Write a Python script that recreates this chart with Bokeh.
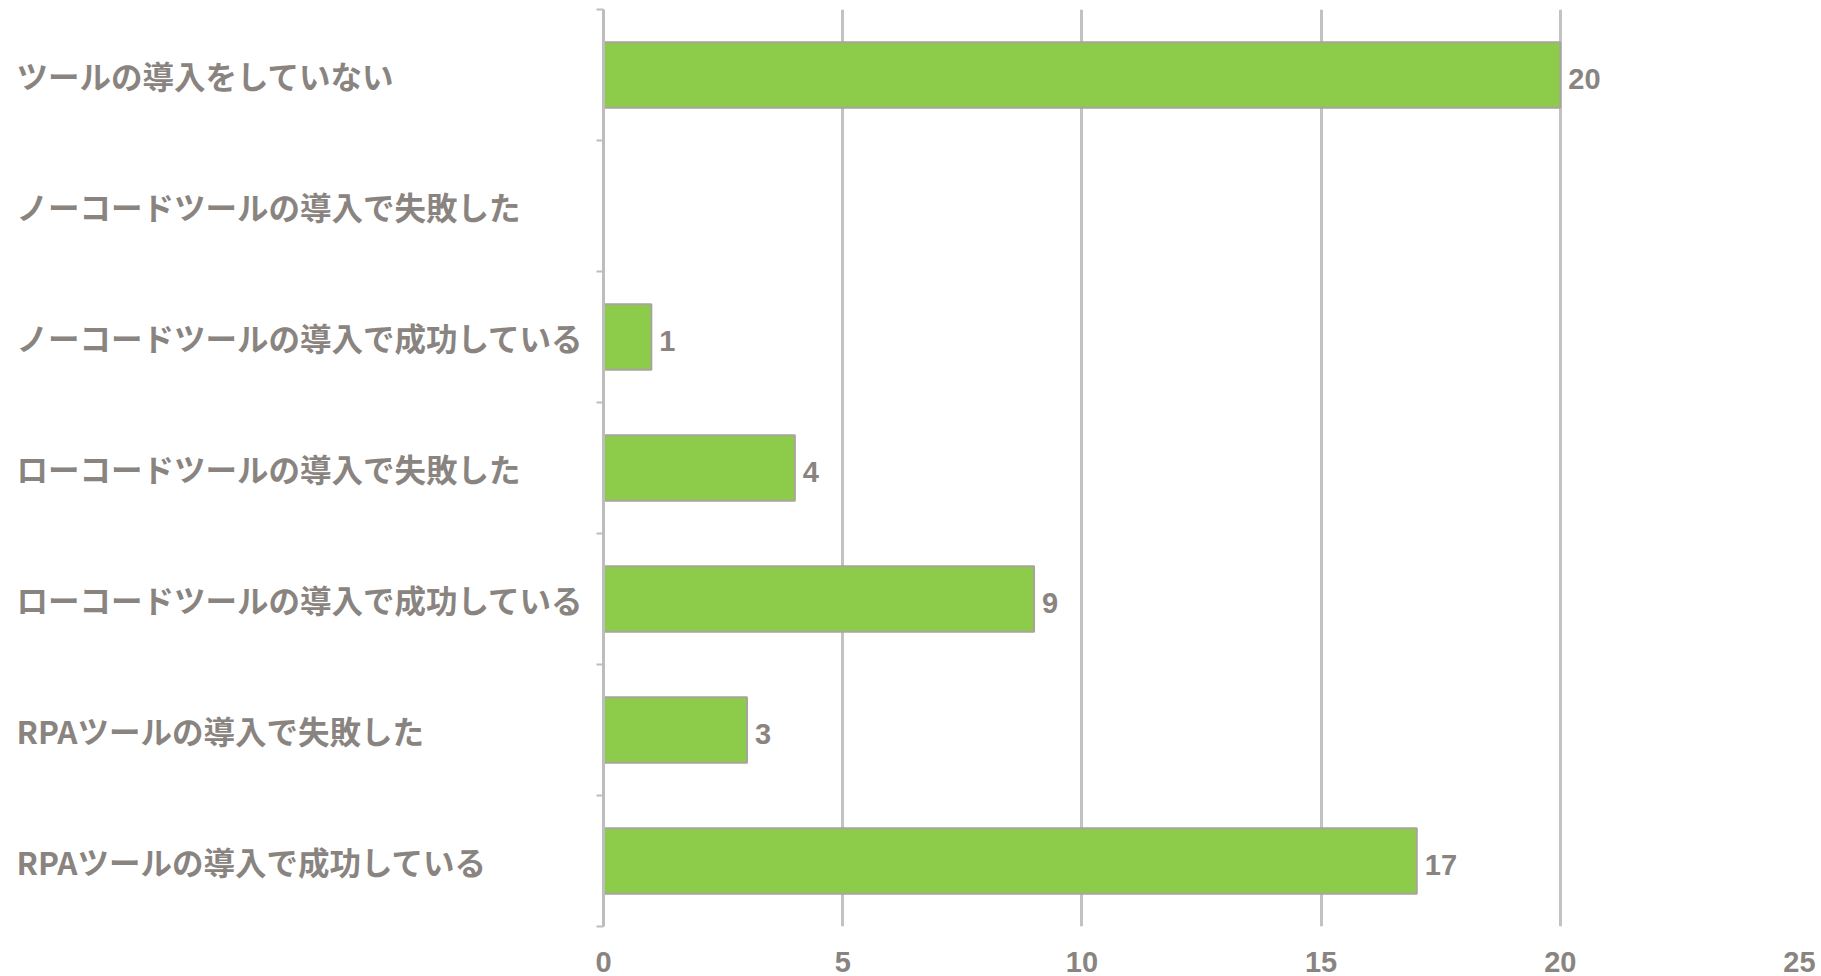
from bokeh.plotting import figure
from bokeh.models import ColumnDataSource, LabelSet, Range1d, FixedTicker
from bokeh.core.properties import value
from bokeh.layouts import row
from bokeh.embed import file_html
from bokeh.resources import INLINE

categories = [
    "ツールの導入をしていない",
    "ノーコードツールの導入で失敗した",
    "ノーコードツールの導入で成功している",
    "ローコードツールの導入で失敗した",
    "ローコードツールの導入で成功している",
    "RPAツールの導入で失敗した",
    "RPAツールの導入で成功している",
]
values = [20, 0, 1, 4, 9, 3, 17]
x_ticks = [0, 5, 10, 15, 20, 25]

n = len(categories)
ys = [n - i - 0.5 for i in range(n)]

TEXT = "#8a8480"
LEFT_W = 591
AXIS_BORDER = 12

src = ColumnDataSource(dict(y=ys, v=values, cat=categories,
                            lab=[str(v) if v > 0 else "" for v in values]))

yr = Range1d(0, n)

# left panel with the category labels
pl = figure(width=LEFT_W, height=976, output_backend="svg", toolbar_location=None,
            x_range=Range1d(0, LEFT_W), y_range=yr,
            min_border_left=0, min_border_right=0, min_border_top=9, min_border_bottom=50)
pl.axis.visible = False
pl.grid.visible = False
pl.outline_line_color = None
pl.text(x=16, y="y", text="cat", source=src,
        text_align="left", text_baseline="middle",
        text_font=value("Noto Sans CJK JP"), text_font_style="bold",
        text_font_size="31.5px", text_color=TEXT)

# chart panel
p = figure(width=1821 - LEFT_W, height=976, output_backend="svg", toolbar_location=None,
           x_range=Range1d(0, 25), y_range=yr,
           min_border_left=AXIS_BORDER, min_border_right=22, min_border_top=9, min_border_bottom=50)
p.outline_line_color = None

p.hbar(y="y", left=0, right="v", height=0.5, source=src,
       fill_color="#8dcc4b", line_color="#a8a49c", line_width=2)

p.xaxis.ticker = FixedTicker(ticks=x_ticks)
p.xaxis.axis_line_color = None
p.xaxis.major_tick_line_color = None
p.xaxis.minor_tick_line_color = None
p.xaxis.major_label_text_font = "Liberation Sans"
p.xaxis.major_label_text_font_style = "bold"
p.xaxis.major_label_text_font_size = "29px"
p.xaxis.major_label_text_color = TEXT
p.xaxis.major_label_standoff = 19

p.yaxis.ticker = FixedTicker(ticks=[], minor_ticks=list(range(n + 1)))
p.yaxis.axis_line_color = "#bdbdbd"
p.yaxis.axis_line_width = 3
p.yaxis.major_tick_line_color = None
p.yaxis.minor_tick_line_color = "#bdbdbd"
p.yaxis.minor_tick_line_width = 2
p.yaxis.minor_tick_out = 7
p.yaxis.minor_tick_in = 0
p.yaxis.major_label_standoff = 0
p.yaxis.major_label_text_font_size = "0px"

p.xgrid.ticker = FixedTicker(ticks=x_ticks[1:])
p.xgrid.grid_line_color = "#c2c2c2"
p.xgrid.grid_line_width = 3
p.ygrid.grid_line_color = None

val_labels = LabelSet(x="v", y="y", text="lab", source=src, x_offset=8, y_offset=-4,
                      text_align="left", text_baseline="middle",
                      text_font=value("Liberation Sans"), text_font_style="bold",
                      text_font_size="29px", text_color=TEXT)
p.add_layout(val_labels)

layout = row(pl, p)
open("out.html", "w").write(file_html(layout, INLINE))
